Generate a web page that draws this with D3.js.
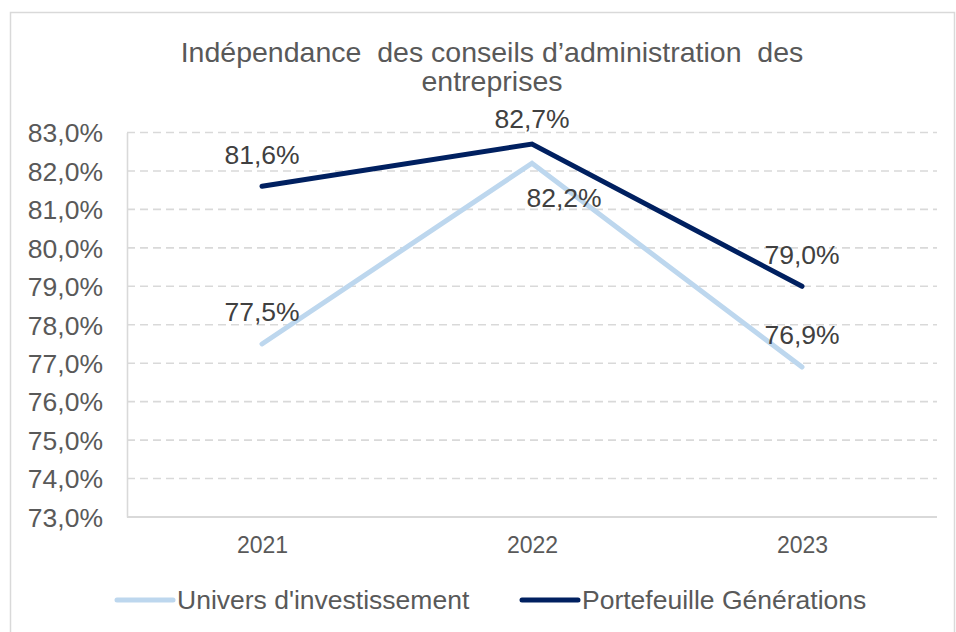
<!DOCTYPE html>
<html>
<head>
<meta charset="utf-8">
<script src="https://cdn.jsdelivr.net/npm/d3@7"></script>
<style>
  html, body { margin: 0; padding: 0; background: #fff; }
  svg { display: block; font-family: Arial, "Liberation Sans", sans-serif; }
</style>
</head>
<body>
<svg id="chart" width="956" height="632"></svg>
<script>
// ---- data ----
const years = ["2021", "2022", "2023"];
const univers = [77.5, 82.2, 76.9];
const portefeuille = [81.6, 82.7, 79.0];
const yTicks = [73, 74, 75, 76, 77, 78, 79, 80, 81, 82, 83];
const seriesNames = ["Univers d'investissement", "Portefeuille Générations"];
const seriesColors = ["#bdd7ee", "#002060"];
const titleLines = ["Indépendance  des conseils d’administration  des", "entreprises"];

const fmt = v => v.toFixed(1).replace(".", ",") + "%";

const svg = d3.select("#chart");

// outer frame
svg.append("rect")
  .attr("x", 10.5).attr("y", 12.5)
  .attr("width", 944).attr("height", 640)
  .attr("fill", "#fff").attr("stroke", "#d9d9d9").attr("stroke-width", 1.5);

const plot = { left: 127, right: 937, top: 132.5, bottom: 517 };

const x = d3.scalePoint().domain(years).range([plot.left, plot.right]).padding(0.5);
const y = d3.scaleLinear().domain([73, 83]).range([plot.bottom, plot.top]);

// title
svg.append("text")
  .attr("x", 492).attr("y", 62)
  .attr("text-anchor", "middle")
  .attr("fill", "#595959")
  .style("font-size", "28.5px")
  .style("white-space", "pre")
  .selectAll("tspan").data(titleLines).join("tspan")
  .attr("x", 492)
  .attr("dy", (d, i) => i === 0 ? 0 : 29)
  .text(d => d);

// gridlines
svg.append("g")
  .selectAll("line").data(yTicks.filter(t => t !== 73)).join("line")
  .attr("x1", plot.left).attr("x2", plot.right)
  .attr("y1", d => y(d)).attr("y2", d => y(d))
  .attr("stroke", "#d9d9d9").attr("stroke-width", 1.6)
  .attr("stroke-dasharray", "8,5");

// y axis
const yAxis = svg.append("g")
  .attr("transform", `translate(${plot.left},0)`)
  .call(d3.axisLeft(y).tickValues(yTicks).tickSize(0).tickPadding(24).tickFormat(fmt));
yAxis.select(".domain").attr("stroke", "#d9d9d9").attr("stroke-width", 1.6);
yAxis.selectAll("text")
  .attr("fill", "#595959")
  .attr("dy", "0.35em")
  .style("font-size", "26.5px")
  .style("font-family", "Arial, 'Liberation Sans', sans-serif");

// x axis
const xAxis = svg.append("g")
  .attr("transform", `translate(0,${plot.bottom})`)
  .call(d3.axisBottom(x).tickSize(0).tickPadding(20));
xAxis.select(".domain")
  .attr("d", `M${plot.left},0H${plot.right}`)
  .attr("stroke", "#d9d9d9").attr("stroke-width", 2);
xAxis.selectAll("text")
  .attr("fill", "#595959")
  .attr("dy", "0.71em")
  .style("font-size", "23px")
  .style("font-family", "Arial, 'Liberation Sans', sans-serif");

// lines
const allSeries = [univers, portefeuille];
const line = d3.line().x((d, i) => x(years[i])).y(d => y(d));

svg.append("g").selectAll("path").data(allSeries).join("path")
  .attr("d", d => line(d))
  .attr("fill", "none")
  .attr("stroke", (d, i) => seriesColors[i])
  .attr("stroke-width", 5)
  .attr("stroke-linejoin", "miter")
  .attr("stroke-linecap", "round");

// data labels
const labels = [];
allSeries.forEach((vals, si) => {
  vals.forEach((v, i) => {
    const px = x(years[i]);
    const py = y(v);
    const below = si === 0 && i === 1;
    labels.push({
      v,
      x: below ? px + 32 : px,
      y: below ? py + 34 : Math.max(py - 32, 119)
    });
  });
});

svg.append("g").selectAll("text").data(labels).join("text")
  .attr("x", d => d.x).attr("y", d => d.y)
  .attr("dy", "0.35em")
  .attr("text-anchor", "middle")
  .attr("fill", "#404040")
  .style("font-size", "26.5px")
  .text(d => fmt(d.v));

// legend
const legendItems = [
  { name: seriesNames[0], color: seriesColors[0], x: 117 },
  { name: seriesNames[1], color: seriesColors[1], x: 522 }
];
const lg = svg.append("g").selectAll("g").data(legendItems).join("g")
  .attr("transform", d => `translate(${d.x},600)`);
lg.append("line")
  .attr("x1", 0).attr("x2", 56).attr("y1", 0).attr("y2", 0)
  .attr("stroke", d => d.color).attr("stroke-width", 5)
  .attr("stroke-linecap", "round");
lg.append("text")
  .attr("x", 60).attr("y", 0).attr("dy", "0.35em")
  .attr("fill", "#595959")
  .style("font-size", "26.5px")
  .text(d => d.name);
</script>
</body>
</html>
